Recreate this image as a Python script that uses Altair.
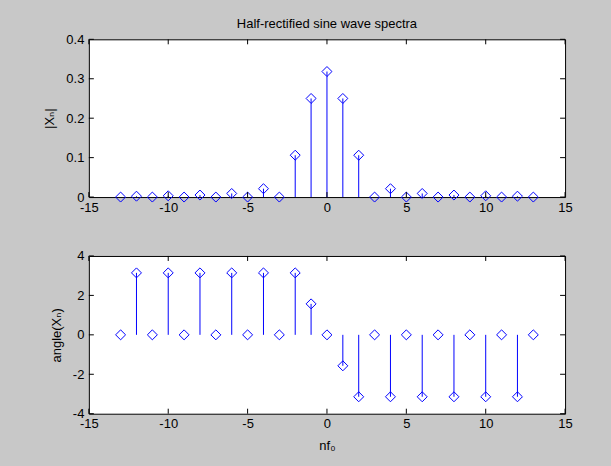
import altair as alt
import pandas as pd

# Harmonic index n (multiples of the fundamental f0)
n = list(range(-13, 14))

# |X_n| of the half-rectified sine
magnitude = [0, 0.0022, 0, 0.0032, 0, 0.0051, 0, 0.0091, 0, 0.0212, 0, 0.1061,
             0.25, 0.3183, 0.25,
             0.1061, 0, 0.0212, 0, 0.0091, 0, 0.0051, 0, 0.0032, 0, 0.0022, 0]

# angle(X_n) in radians
phase = [0, 3.1416, 0, 3.1416, 0, 3.1416, 0, 3.1416, 0, 3.1416, 0, 3.1416,
         1.5708, 0, -1.5708,
         -3.1416, 0, -3.1416, 0, -3.1416, 0, -3.1416, 0, -3.1416, 0, -3.1416, 0]

x_ticks = [-15, -10, -5, 0, 5, 10, 15]
mag_ticks = [0, 0.1, 0.2, 0.3, 0.4]
phase_ticks = [-4, -2, 0, 2, 4]

W, H = 477, 158
TICK = 5
BLUE = "#0000FF"
FONT = "Liberation Sans, DejaVu Sans"

# plain hyphen for negative numbers
LABEL = "datum.value < 0 ? '-' + (-datum.value) : '' + datum.value"

df = pd.DataFrame({"n": n, "mag": magnitude, "phase": phase})
xdf = pd.DataFrame({"t": x_ticks})


def stem_panel(field, ydomain, yticks, ytitle, ytitle_x, xtitle=None, title=None):
    xscale = alt.Scale(domain=[-15, 15], nice=False, zero=False)
    yscale = alt.Scale(domain=ydomain, nice=False, zero=False)
    xaxis = alt.Axis(values=x_ticks, labelExpr=LABEL, title=xtitle)
    yaxis = alt.Axis(values=yticks, labelExpr=LABEL, title=ytitle,
                     titleX=ytitle_x, titleY=H / 2, titleBaseline="middle",
                     titleAlign="center")

    stems = alt.Chart(df).mark_rule(color=BLUE, strokeWidth=1).encode(
        x=alt.X("n:Q", scale=xscale, axis=xaxis),
        y=alt.Y(f"{field}:Q", scale=yscale, axis=yaxis),
        y2=alt.datum(0),
    )
    heads = alt.Chart(df).mark_point(
        shape="diamond", filled=False, color=BLUE, size=100, strokeWidth=1, opacity=1
    ).encode(
        x=alt.X("n:Q", scale=xscale, axis=xaxis),
        y=alt.Y(f"{field}:Q", scale=yscale, axis=yaxis),
    )

    # inward-pointing tick marks on all four sides of the box
    ydf = pd.DataFrame({"t": yticks})
    xt_bottom = alt.Chart(xdf).mark_rule(color="black").encode(
        x=alt.X("t:Q", scale=xscale, axis=xaxis), y=alt.value(H), y2=alt.value(H - TICK))
    xt_top = alt.Chart(xdf).mark_rule(color="black").encode(
        x=alt.X("t:Q", scale=xscale, axis=xaxis), y=alt.value(0), y2=alt.value(TICK))
    yt_left = alt.Chart(ydf).mark_rule(color="black").encode(
        y=alt.Y("t:Q", scale=yscale, axis=yaxis), x=alt.value(0), x2=alt.value(TICK))
    yt_right = alt.Chart(ydf).mark_rule(color="black").encode(
        y=alt.Y("t:Q", scale=yscale, axis=yaxis), x=alt.value(W - TICK), x2=alt.value(W))

    layer = alt.layer(stems, heads, xt_bottom, xt_top, yt_left, yt_right)
    props = dict(width=W, height=H)
    if title:
        props["title"] = alt.TitleParams(title, fontSize=13, font=FONT,
                                         fontWeight="normal", color="black",
                                         offset=2)
    return layer.properties(**props)


top = stem_panel("mag", [0, 0.4], mag_ticks, "|Xₙ|", -39,
                 title="Half-rectified sine wave spectra")
bottom = stem_panel("phase", [-4, 4], phase_ticks, "angle(Xₙ)", -32, xtitle="nf₀")

chart = alt.vconcat(top, bottom, spacing=34).properties(
    background="#C8C8C8",
    padding={"left": 43, "top": 17, "right": 38, "bottom": 15},
).configure_view(
    fill="white", stroke="black", strokeWidth=1,
).configure_axis(
    grid=False, domain=False, ticks=False, tickSize=0,
    labelOverlap=False, labelFlush=False,
    labelFont=FONT, labelFontSize=13, labelColor="black", labelPadding=5,
    titleFont=FONT, titleFontSize=13, titleColor="black",
    titleFontWeight="normal", titlePadding=6,
).configure_axisX(labelPadding=4, titlePadding=9)

chart.save("out.html", embed_options={"renderer": "svg", "actions": False})
